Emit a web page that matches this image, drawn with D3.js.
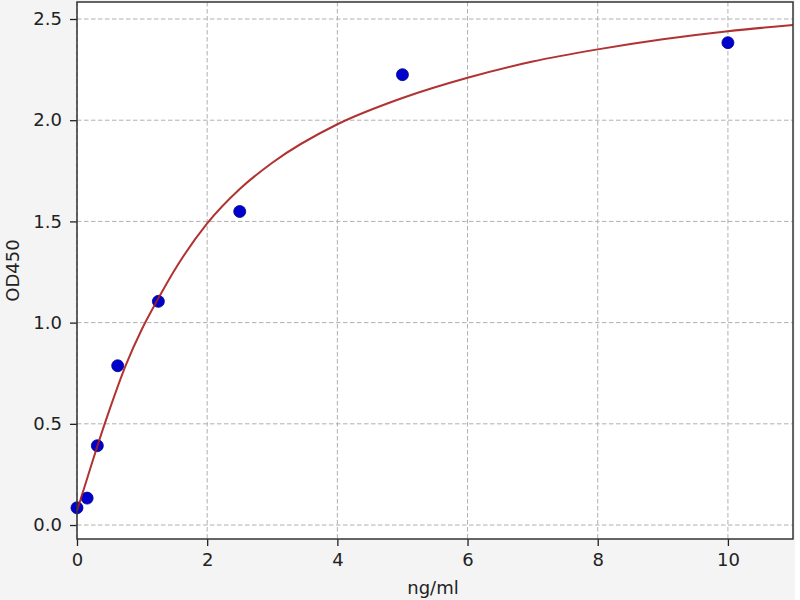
<!DOCTYPE html>
<html>
<head>
<meta charset="utf-8">
<script src="https://cdn.jsdelivr.net/npm/d3@7"></script>
<style>
  html, body { margin: 0; padding: 0; background: #f4f4f4; }
  svg { display: block; font-family: "DejaVu Sans", sans-serif; }
</style>
</head>
<body>
<div id="chart"></div>
<script>
// Standards (measured points)
const concentrations = [0, 0.156, 0.3125, 0.625, 1.25, 2.5, 5, 10];
const odValues = [0.085, 0.133, 0.392, 0.787, 1.105, 1.549, 2.225, 2.383];

// Fitted curve
const curveX = [0, 0.156, 0.3125, 0.5, 0.75, 1, 1.25, 1.5, 2, 2.5, 3, 4, 5, 6, 7, 8, 9, 10, 11];
const curveY = [0.07, 0.23, 0.39, 0.57, 0.79, 0.97, 1.12, 1.26, 1.49, 1.66, 1.79, 1.98, 2.11, 2.21, 2.29, 2.35, 2.40, 2.44, 2.47];

// Tick labels
const xTicks = [0, 2, 4, 6, 8, 10];
const yTicks = [0.0, 0.5, 1.0, 1.5, 2.0, 2.5];

const W = 800, H = 600;
const margin = { top: 2, right: 7, bottom: 61, left: 77 };
const width = W - margin.left - margin.right;
const height = H - margin.top - margin.bottom;

const svg = d3.select('#chart')
    .append('svg')
    .attr('width', W)
    .attr('height', H);

// white strip at the right edge of the picture
svg.append('rect')
    .attr('x', 795).attr('y', 0)
    .attr('width', 5).attr('height', H)
    .attr('fill', '#ffffff');

const g = svg.append('g')
    .attr('transform', `translate(${margin.left},${margin.top})`);

const x = d3.scaleLinear().domain([0, 11]).range([0, width]);
const y = d3.scaleLinear().domain([-0.069, 2.584]).range([height, 0]);

// plot background
g.append('rect')
    .attr('width', width)
    .attr('height', height)
    .attr('fill', '#ffffff');

// grid
g.append('g')
    .selectAll('line')
    .data(xTicks)
    .enter()
    .append('line')
    .attr('x1', d => x(d)).attr('x2', d => x(d))
    .attr('y1', 0).attr('y2', height)
    .attr('stroke', '#b0b0b0')
    .attr('stroke-width', 1)
    .attr('stroke-dasharray', '4.5,2.5');

g.append('g')
    .selectAll('line')
    .data(yTicks)
    .enter()
    .append('line')
    .attr('x1', 0).attr('x2', width)
    .attr('y1', d => y(d)).attr('y2', d => y(d))
    .attr('stroke', '#b0b0b0')
    .attr('stroke-width', 1)
    .attr('stroke-dasharray', '4.5,2.5');

// points
g.append('g')
    .selectAll('circle')
    .data(concentrations)
    .enter()
    .append('circle')
    .attr('cx', (d, i) => x(d))
    .attr('cy', (d, i) => y(odValues[i]))
    .attr('r', 6)
    .attr('fill', '#0000cc')
    .attr('stroke', '#00008b')
    .attr('stroke-width', 0.8);

// fitted curve
const line = d3.line()
    .x(d => x(d[0]))
    .y(d => y(d[1]))
    .curve(d3.curveMonotoneX);

g.append('path')
    .datum(curveX.map((d, i) => [d, curveY[i]]))
    .attr('d', line)
    .attr('fill', 'none')
    .attr('stroke', '#a81c1c')
    .attr('stroke-opacity', 0.9)
    .attr('stroke-width', 2);

// axes
const xAxis = d3.axisBottom(x).tickValues(xTicks).tickFormat(d3.format('d')).tickSize(7).tickPadding(7);
const yAxis = d3.axisLeft(y).tickValues(yTicks).tickFormat(d3.format('.1f')).tickSize(7).tickPadding(8);

const xg = g.append('g')
    .attr('transform', `translate(0,${height})`)
    .call(xAxis);
const yg = g.append('g').call(yAxis);

[xg, yg].forEach(a => {
    a.select('.domain').remove();
    a.selectAll('line').attr('stroke', '#222').attr('stroke-width', 1.3);
    a.selectAll('text')
        .attr('fill', '#222')
        .style('font-size', '18px')
        .style('font-family', '"DejaVu Sans", sans-serif');
});

// frame
g.append('rect')
    .attr('width', width)
    .attr('height', height)
    .attr('fill', 'none')
    .attr('stroke', '#333')
    .attr('stroke-width', 1.5);

// axis titles
svg.append('text')
    .attr('x', margin.left + width / 2 - 2)
    .attr('y', 594)
    .attr('text-anchor', 'middle')
    .attr('fill', '#222')
    .style('font-size', '18px')
    .text('ng/ml');

svg.append('text')
    .attr('transform', `translate(19,${margin.top + height / 2}) rotate(-90)`)
    .attr('text-anchor', 'middle')
    .attr('fill', '#222')
    .style('font-size', '18px')
    .text('OD450');
</script>
</body>
</html>
